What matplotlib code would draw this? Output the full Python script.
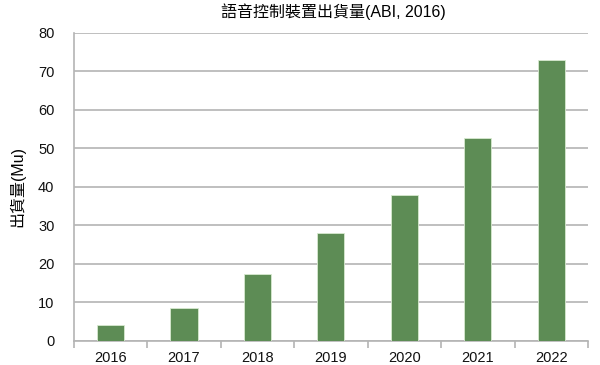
import matplotlib
matplotlib.use("Agg")
import matplotlib.pyplot as plt
import numpy as np

plt.rcParams['font.family'] = ['Liberation Sans', 'Noto Sans CJK TC', 'DejaVu Sans']

years = ["2016", "2017", "2018", "2019", "2020", "2021", "2022"]
shipments = [4.2, 8.5, 17.4, 28.0, 37.8, 52.6, 73.0]
title = "語音控制裝置出貨量(ABI, 2016)"
ylabel = "出貨量(Mu)"

fig = plt.figure(figsize=(6, 3.65), dpi=100)
ax = fig.add_axes([0.123, 0.066, 0.857, 0.844])

x = np.arange(len(years))
ax.bar(x, shipments, width=0.37, color="#5d8c55", edgecolor="#d8ead0", linewidth=0.6, zorder=3)

ax.set_xlim(-0.5, len(years) - 0.5)
ax.set_ylim(0, 80)
ax.set_yticks(np.arange(0, 81, 10))
ax.yaxis.grid(True, color="#b4b4b4", linewidth=1.2, zorder=0)
ax.set_axisbelow(True)

ax.set_xticks(x)
ax.set_xticklabels(years)
ax.set_xticks(np.arange(-0.5, len(years), 1), minor=True)
ax.tick_params(axis="x", which="major", length=0, pad=7, labelsize=10.5, colors="#111111")
ax.tick_params(axis="x", which="minor", length=5, width=1.2, color="#b4b4b4", direction="out")
ax.tick_params(axis="y", length=0, pad=14, labelsize=10.5, colors="#111111")

for s in ["top", "right"]:
    ax.spines[s].set_visible(False)
ax.spines["left"].set_color("#b4b4b4")
ax.spines["left"].set_linewidth(1.2)
ax.spines["bottom"].set_color("#b4b4b4")
ax.spines["bottom"].set_linewidth(1.2)

ax.set_ylabel(ylabel, fontsize=11.5, labelpad=9)
fig.text(0.555, 0.968, title, ha="center", va="center", fontsize=11.5)

fig.savefig("out.png", dpi=100)
